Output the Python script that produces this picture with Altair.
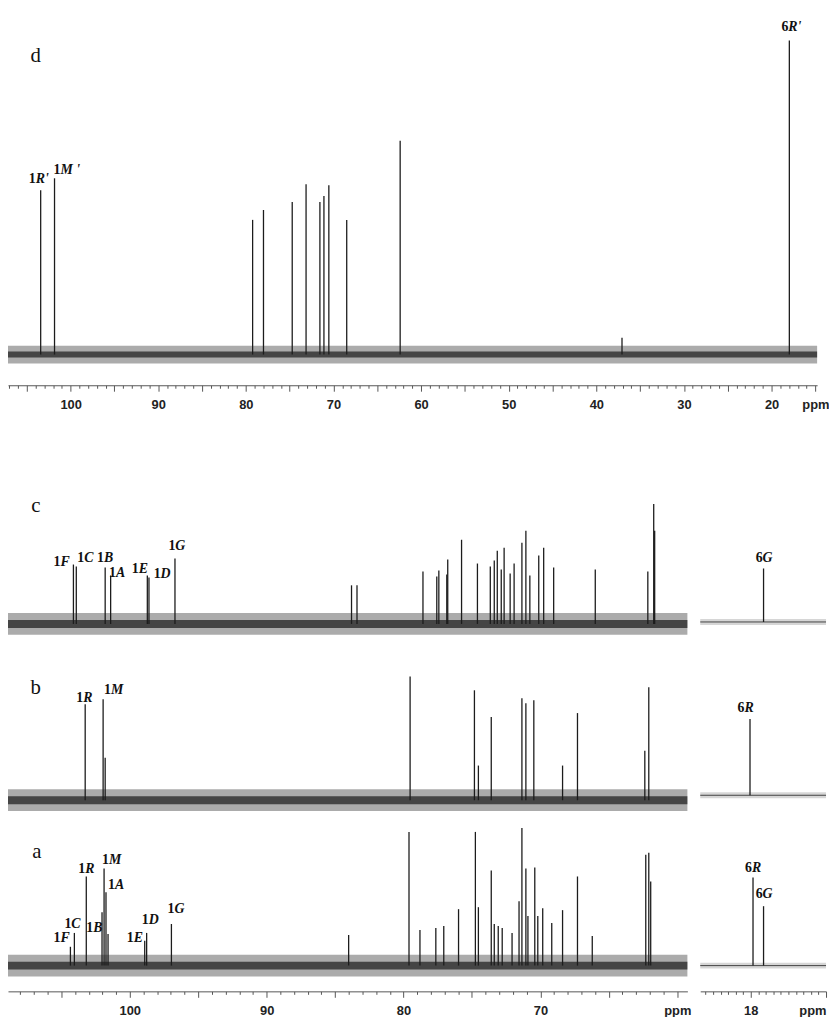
import altair as alt
import pandas as pd

# ---------------- spectrum d (full range) ----------------
d_ppm = [103.42, 101.84, 79.23, 77.99, 74.71, 73.13, 71.55, 71.09, 70.53, 68.49, 62.39, 37.07, 17.97]
d_int = [166, 178, 136, 146, 154, 172, 154, 160, 171, 136, 216, 17, 317]
d_lab_ppm = [103.87, 101.05, 17.97]
d_lab_y = [177, 186, 331]
d_lab_num = ["1", "1", "6"]
d_lab_let = ["R'", "M '", "R'"]

# ---------------- spectrum c ----------------
c_ppm = [104.12, 103.91, 101.80, 101.40, 98.72, 98.60, 96.70, 83.80, 83.40, 78.58, 77.57, 77.42,
         76.84, 76.77, 75.76, 74.60, 73.66, 73.37, 73.15, 72.86, 72.65, 72.21, 71.92, 71.35,
         71.06, 70.77, 70.12, 69.76, 69.03, 65.99, 62.15, 61.72, 61.65]
c_int = [60, 58, 57, 49, 49, 47, 66, 39, 39, 53, 48, 54, 50, 65, 85, 61, 58, 64, 74, 55, 77, 51,
         61, 82, 94, 49, 69, 77, 57, 55, 53, 121, 94]
c_r_ppm = [17.83]
c_r_int = [54]
c_lab_ppm = [104.99, 103.26, 101.81, 100.94, 99.28, 97.68, 96.60]
c_lab_y = [62, 67, 67, 51, 55, 50, 79]
c_lab_num = ["1", "1", "1", "1", "1", "1", "1"]
c_lab_let = ["F", "C", "B", "A", "E", "D", "G"]
c_r_lab_ppm = [17.83]
c_r_lab_y = [65]
c_r_lab_num = ["6"]
c_r_lab_let = ["G"]

# ---------------- spectrum b ----------------
b_ppm = [103.26, 101.95, 101.80, 79.52, 74.82, 74.53, 73.59, 71.35, 71.06, 70.48, 68.38, 67.29, 62.37, 62.08]
b_int = [97, 102, 43, 125, 111, 35, 84, 103, 98, 101, 35, 88, 50, 114]
b_r_ppm = [18.01]
b_r_int = [77]
b_lab_ppm = [103.33, 101.30]
b_lab_y = [103, 111]
b_lab_num = ["1", "1"]
b_lab_let = ["R", "M"]
b_r_lab_ppm = [18.07]
b_r_lab_y = [88]
b_r_lab_num = ["6"]
b_r_lab_let = ["R"]

# ---------------- spectrum a ----------------
a_ppm = [104.34, 104.05, 103.18, 102.03, 101.88, 101.74, 101.59, 98.91, 98.77, 96.96, 84.01, 79.60,
         78.80, 77.64, 77.06, 75.98, 74.75, 74.53, 73.59, 73.37, 73.08, 72.79, 72.07, 71.56, 71.35,
         71.06, 70.91, 70.41, 70.19, 69.83, 69.17, 68.38, 67.29, 66.21, 62.30, 62.08, 61.94]
a_int = [19, 33, 90, 54, 98, 74, 32, 25, 33, 42, 31, 135, 36, 38, 40, 57, 135, 59, 96, 42, 40, 38,
         33, 65, 139, 98, 50, 99, 50, 58, 43, 56, 90, 30, 112, 114, 85]
a_r_ppm = [17.97, 17.83]
a_r_int = [89, 60]
a_lab_ppm = [104.99, 104.20, 103.18, 102.60, 101.45, 101.01, 99.64, 98.55, 96.67]
a_lab_y = [28, 42, 98, 38, 107, 81, 28, 46, 57]
a_lab_num = ["1", "1", "1", "1", "1", "1", "1", "1", "1"]
a_lab_let = ["F", "C", "R", "B", "M", "A", "E", "D", "G"]
a_r_lab_ppm = [17.97, 17.83]
a_r_lab_y = [99, 72]
a_r_lab_num = ["6", "6"]
a_r_lab_let = ["R", "G"]

# panel letters
panel_names = ["d", "c", "b", "a"]
panel_ppm = [103.99, 106.87, 106.87, 106.80]
panel_y = [301, 119, 113, 115]

# axis tick values
d_ticks = list(range(15, 108))
left_ticks = list(range(60, 109))
right_ticks = [round(17 + i * 0.1, 1) for i in range(17)]

D_DOM = [107.15, 14.8]
L_DOM = [108.9, 59.26]
R_DOM = [18.671, 17.0]

SERIF = "Liberation Serif"
SANS = "Liberation Sans"
INK = "#1c1c1c"


def make_axis(values, major_test, label_expr):
    return alt.Axis(
        values=values,
        tickSize={"condition": {"test": major_test, "value": 6}, "value": 3},
        labelExpr=label_expr,
        labelFont=SANS, labelFontWeight="bold", labelFontSize=13, labelColor="#222",
        labelPadding=7, tickColor="#555", domainColor="#555", tickWidth=1, domainWidth=1,
        labelOverlap=False, grid=False, title=None,
    )


def panel(ppm, ints, dom, ydom, width, height, axis=None, noise=(3, 9), thin=False,
          labels=None, letter=None):
    xs = alt.Scale(domain=dom, nice=False, zero=False)
    ys = alt.Scale(domain=ydom, nice=False, zero=False)
    xax = axis if axis is not None else None
    X = lambda f: alt.X(f, type="quantitative", scale=xs, axis=xax)
    Y = lambda f: alt.Y(f, type="quantitative", scale=ys, axis=None)

    layers = []
    inner, outer = noise
    nd = pd.DataFrame({"ppm": [dom[0]], "x1": [dom[1]],
                       "lo": [-outer], "hi": [outer], "lo2": [-inner], "hi2": [inner]})
    if thin:
        layers.append(alt.Chart(nd).mark_rect(color="#777", opacity=0.3).encode(
            x=X("ppm"), x2="x1", y=Y("lo"), y2="hi"))
        layers.append(alt.Chart(nd.assign(z=0)).mark_rule(color="#444", strokeWidth=1).encode(
            x=X("ppm"), x2="x1", y=Y("z")))
    else:
        layers.append(alt.Chart(nd).mark_rect(color="#444", opacity=0.45).encode(
            x=X("ppm"), x2="x1", y=Y("lo"), y2="hi"))
        layers.append(alt.Chart(nd).mark_rect(color="#1a1a1a", opacity=0.7).encode(
            x=X("ppm"), x2="x1", y=Y("lo2"), y2="hi2"))

    pk = pd.DataFrame({"ppm": ppm, "h": ints, "b": [0] * len(ppm)})
    layers.append(alt.Chart(pk).mark_rule(color=INK, strokeWidth=1.3).encode(
        x=X("ppm"), y=Y("h"), y2="b"))

    if labels is not None:
        lp, ly, ln, ll = labels
        ld = pd.DataFrame({"ppm": lp, "y": ly, "num": ln, "let": ll})
        layers.append(alt.Chart(ld).mark_text(font=SERIF, fontWeight="bold", fontSize=14,
                                              align="right", baseline="middle", dx=-1,
                                              color="#111").encode(
            x=X("ppm"), y=Y("y"), text="num"))
        layers.append(alt.Chart(ld).mark_text(font=SERIF, fontWeight="bold", fontStyle="italic",
                                              fontSize=14, align="left", baseline="middle", dx=-1,
                                              color="#111").encode(
            x=X("ppm"), y=Y("y"), text="let"))
    if letter is not None:
        t, p, yv = letter
        td = pd.DataFrame({"ppm": [p], "y": [yv], "t": [t]})
        layers.append(alt.Chart(td).mark_text(font=SERIF, fontSize=21, align="center",
                                              baseline="middle", color="#111").encode(
            x=X("ppm"), y=Y("y"), text="t"))
    return alt.layer(*layers).properties(width=width, height=height)


d_axis = make_axis(d_ticks, "datum.value % 5 === 0",
                   "datum.value === 15 ? 'ppm' : (datum.value % 10 === 0 ? datum.label : '')")
l_axis = make_axis(left_ticks, "datum.value % 5 === 0",
                   "datum.value === 60 ? 'ppm' : (datum.value % 10 === 0 ? datum.label : '')")
r_axis = make_axis(right_ticks, "abs(datum.value - round(datum.value)) < 0.01",
                   "abs(datum.value - 18) < 0.01 ? '18' : (abs(datum.value - 17) < 0.01 ? 'ppm' : '')")

LW, RW = 686, 127
C_TOP = 407  # page y where row c begins

chart_d = panel(d_ppm, d_int, D_DOM, [-31, 345], 817, 376, axis=d_axis,
                labels=(d_lab_ppm, d_lab_y, d_lab_num, d_lab_let),
                letter=(panel_names[0], panel_ppm[0], panel_y[0]))

c_h = 650 - C_TOP
c_left = panel(c_ppm, c_int, L_DOM, [-28, 622 - C_TOP], LW, c_h, noise=(4, 11),
               labels=(c_lab_ppm, c_lab_y, c_lab_num, c_lab_let),
               letter=(panel_names[1], panel_ppm[1], panel_y[1]))
c_right = panel(c_r_ppm, c_r_int, R_DOM, [-30, 620 - C_TOP], RW, c_h, noise=(0, 3), thin=True,
                labels=(c_r_lab_ppm, c_r_lab_y, c_r_lab_num, c_r_lab_let))

b_left = panel(b_ppm, b_int, L_DOM, [-25, 150], LW, 175, noise=(4, 11),
               labels=(b_lab_ppm, b_lab_y, b_lab_num, b_lab_let),
               letter=(panel_names[2], panel_ppm[2], panel_y[2]))
b_right = panel(b_r_ppm, b_r_int, R_DOM, [-30, 145], RW, 175, noise=(0, 3), thin=True,
                labels=(b_r_lab_ppm, b_r_lab_y, b_r_lab_num, b_r_lab_let))

a_left = panel(a_ppm, a_int, L_DOM, [-26, 142], LW, 168, axis=l_axis, noise=(4, 11),
               labels=(a_lab_ppm, a_lab_y, a_lab_num, a_lab_let),
               letter=(panel_names[3], panel_ppm[3], panel_y[3]))
a_right = panel(a_r_ppm, a_r_int, R_DOM, [-26, 142], RW, 168, axis=r_axis, noise=(0, 3), thin=True,
                labels=(a_r_lab_ppm, a_r_lab_y, a_r_lab_num, a_r_lab_let))

row_c = alt.hconcat(c_left, c_right, spacing=13, bounds="flush")
row_b = alt.hconcat(b_left, b_right, spacing=13, bounds="flush")
row_a = alt.hconcat(a_left, a_right, spacing=13, bounds="flush")

chart = alt.vconcat(chart_d, row_c, row_b, row_a, spacing=0).properties(
    padding=0, background="white"
).configure_view(stroke=None)

chart.save("out.html", embed_options={"renderer": "svg", "actions": False})
